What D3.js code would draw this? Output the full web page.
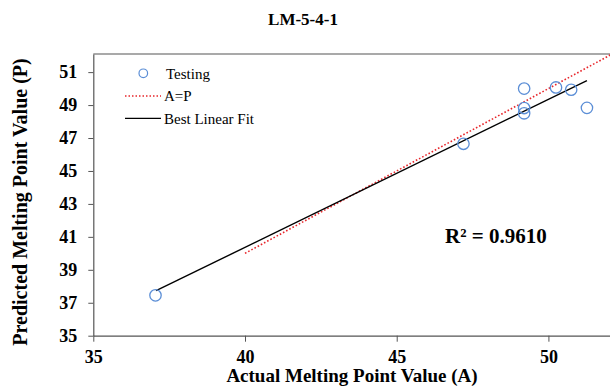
<!DOCTYPE html>
<meta charset="utf-8">
<style>
body { margin: 0; background: #fff; }
text { font-family: "Liberation Serif", "Times New Roman", serif; fill: #000; }
.tick text { font-weight: bold; font-size: 18px; }
.axis path, .axis line { stroke: #555; }
</style>
<script src="https://d3js.org/d3.v7.min.js"></script>
<svg width="610" height="389"></svg>
<script>

var actual    = [37.05, 47.2, 49.2, 49.2, 49.2, 50.25, 50.75, 51.27];
var predicted = [37.45, 46.65, 50.0, 48.82, 48.5, 50.07, 49.93, 48.83];
var fitA = [37.07, 51.27], fitP = [37.73, 50.49];
var idealA = [40, 52.2], idealP = [40, 52.2];
var xTicks = [35, 40, 45, 50];
var yTicks = [35, 37, 39, 41, 43, 45, 47, 49, 51];
var legendItems = ["Testing", "A=P", "Best Linear Fit"];

var svg = d3.select("svg");
var plotL = 93.3, plotT = 54, plotB = 335.7, plotR = 610;

var x = d3.scaleLinear().domain([35, 52.03]).range([plotL, plotR]);
var y = d3.scaleLinear().domain([35, 52.1]).range([plotB, plotT]);

svg.append("clipPath").attr("id", "plot")
  .append("rect").attr("x", plotL).attr("y", plotT).attr("width", plotR - plotL).attr("height", plotB - plotT);

// top border
svg.append("line").attr("x1", plotL).attr("x2", plotR).attr("y1", plotT).attr("y2", plotT)
    .attr("stroke", "#555").attr("stroke-width", 1.2);

svg.append("g").attr("class", "axis")
    .attr("transform", "translate(0," + plotB + ")")
    .call(d3.axisBottom(x).tickValues(xTicks).tickSize(6).tickPadding(9).tickSizeOuter(0))
    .call(function(g) { g.select(".domain").attr("stroke-width", 1.2); });

svg.append("g").attr("class", "axis")
    .attr("transform", "translate(" + plotL + ",0)")
    .call(d3.axisLeft(y).tickValues(yTicks).tickSize(5).tickPadding(11).tickSizeOuter(0))
    .call(function(g) { g.select(".domain").attr("stroke-width", 1.2); });

var line = d3.line().x(function(d) { return x(d[0]); }).y(function(d) { return y(d[1]); });

svg.append("path").datum(d3.zip(idealA, idealP))
    .attr("clip-path", "url(#plot)")
    .attr("d", line).attr("fill", "none")
    .attr("stroke", "#e8262b").attr("stroke-width", 1.6).attr("stroke-dasharray", "1.6,2");

svg.append("path").datum(d3.zip(fitA, fitP))
    .attr("d", line).attr("fill", "none")
    .attr("stroke", "#000").attr("stroke-width", 1.4);

svg.selectAll(".pt").data(d3.zip(actual, predicted)).enter().append("circle")
    .attr("cx", function(d) { return x(d[0]); })
    .attr("cy", function(d) { return y(d[1]); })
    .attr("r", 5.7).attr("fill", "none")
    .attr("stroke", "#5b8ed6").attr("stroke-width", 1.3);

// legend
var lg = svg.append("g");
lg.append("circle").attr("cx", 143.3).attr("cy", 73.3).attr("r", 4.3)
    .attr("fill", "none").attr("stroke", "#5b8ed6").attr("stroke-width", 1.2);
lg.append("line").attr("x1", 125).attr("x2", 161).attr("y1", 96).attr("y2", 96)
    .attr("stroke", "#e8262b").attr("stroke-width", 1.5).attr("stroke-dasharray", "1.5,2");
lg.append("line").attr("x1", 125).attr("x2", 161).attr("y1", 118.3).attr("y2", 118.3)
    .attr("stroke", "#000").attr("stroke-width", 1.3);
lg.selectAll("text").data(legendItems).enter().append("text")
    .attr("x", function(d, i) { return i ? 164 : 166; })
    .attr("y", function(d, i) { return [78.5, 101, 123.5][i]; })
    .attr("font-size", 15).text(function(d) { return d; });

svg.append("text").attr("x", 303).attr("y", 25).attr("text-anchor", "middle")
    .attr("font-weight", "bold").attr("font-size", 17).text("LM-5-4-1");

svg.append("text").attr("x", 352).attr("y", 382).attr("text-anchor", "middle")
    .attr("font-weight", "bold").attr("font-size", 19).text("Actual Melting Point Value (A)");

svg.append("text").attr("transform", "translate(27,202) rotate(-90)").attr("text-anchor", "middle")
    .attr("font-weight", "bold").attr("font-size", 20).text("Predicted Melting Point Value (P)");

svg.append("text").attr("x", 445).attr("y", 242.5)
    .attr("font-weight", "bold").attr("font-size", 21).text("R² = 0.9610");

</script>
